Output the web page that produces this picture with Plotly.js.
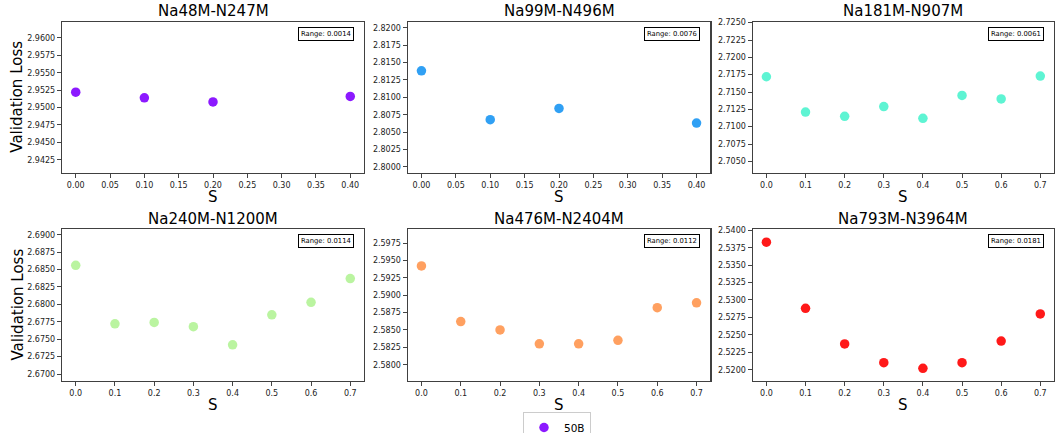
<!DOCTYPE html>
<html>
<head>
<meta charset="utf-8">
<script src="https://cdn.plot.ly/plotly-3.0.1.min.js"></script>
<style>html,body{margin:0;padding:0;background:#fff;}#chart{width:1055px;height:433px;}</style>
</head>
<body>
<div id="chart"></div>
<script>
// ---- data ----
const panelTitles = ["Na48M-N247M", "Na99M-N496M", "Na181M-N907M", "Na240M-N1200M", "Na476M-N2404M", "Na793M-N3964M"];
const sShort = [0.0, 0.1, 0.2, 0.4];
const sLong = [0.0, 0.1, 0.2, 0.3, 0.4, 0.5, 0.6, 0.7];
const lossNa48M = [2.9522, 2.9514, 2.9508, 2.9516];
const lossNa99M = [2.8138, 2.8068, 2.8084, 2.8063];
const lossNa181M = [2.7172, 2.7121, 2.7115, 2.7129, 2.7112, 2.7145, 2.7140, 2.7173];
const lossNa240M = [2.6856, 2.6772, 2.6774, 2.6768, 2.6742, 2.6785, 2.6803, 2.6837];
const lossNa476M = [2.5942, 2.5862, 2.5850, 2.5830, 2.5830, 2.5835, 2.5882, 2.5889];
const lossNa793M = [2.5383, 2.5288, 2.5237, 2.5210, 2.5202, 2.5210, 2.5241, 2.5280];
const rangeLabels = ["Range: 0.0014", "Range: 0.0076", "Range: 0.0061", "Range: 0.0114", "Range: 0.0112", "Range: 0.0181"];
const seriesName = "50B";

// ---- layout helpers ----
const W = 1055, H = 433;
const colsPx = [[62, 364], [407.7, 710.3], [752.7, 1054]];
const rowsPx = [[21.7, 172.7], [229.3, 380.7]];
const colors = ["#8000ff", "#1996f3", "#4df3ce", "#b2f396", "#ff964f", "#ff0000"];
const yLims = [[2.94063, 2.96234], [2.79918, 2.82086], [2.70336, 2.72514],
               [2.66904, 2.69078], [2.5777, 2.59947], [2.51842, 2.54014]];
const xs = [sShort, sShort, sLong, sLong, sLong, sLong];
const ys = [lossNa48M, lossNa99M, lossNa181M, lossNa240M, lossNa476M, lossNa793M];

const traces = [];
const layout = {
  width: W, height: H,
  margin: {l: 0, r: 0, t: 0, b: 0, autoexpand: false},
  paper_bgcolor: "#fff", plot_bgcolor: "#fff",
  font: {family: "DejaVu Sans, sans-serif", color: "#000"},
  showlegend: true,
  legend: {
    x: 523 / W, xanchor: "left", y: 1 - 412 / H, yanchor: "top",
    bordercolor: "#cccccc", borderwidth: 1, bgcolor: "#fff",
    font: {size: 10.5, family: "DejaVu Sans, sans-serif", color: "#000"},
    orientation: "v"
  },
  annotations: [], shapes: []
};

for (let i = 0; i < 6; i++) {
  const n = i + 1;
  const col = i % 3, row = Math.floor(i / 3);
  const xa = "x" + (n === 1 ? "" : n), ya = "y" + (n === 1 ? "" : n);
  const xKey = "xaxis" + (n === 1 ? "" : n), yKey = "yaxis" + (n === 1 ? "" : n);
  const short = xs[i] === sShort;
  traces.push({
    type: "scatter", mode: "markers", x: xs[i], y: ys[i],
    xaxis: xa, yaxis: ya, name: seriesName, showlegend: i === 0,
    marker: {size: 9.5, color: colors[i], opacity: 0.9},
    hoverinfo: "x+y"
  });
  const xr = short ? [-0.02, 0.42] : [-0.035, 0.735];
  const xt = short ? [0, 0.05, 0.1, 0.15, 0.2, 0.25, 0.3, 0.35, 0.4] : sLong;
  layout[xKey] = {
    domain: [colsPx[col][0] / W, colsPx[col][1] / W],
    anchor: ya, range: xr,
    tickmode: "array", tickvals: xt,
    ticktext: xt.map(v => v.toFixed(short ? 2 : 1)),
    ticks: "outside", ticklen: 4, tickwidth: 1, tickcolor: "#444",
    showline: true, linecolor: "#404040", linewidth: 1.2, mirror: true,
    showgrid: false, zeroline: false,
    tickfont: {size: 8, color: "#222"}
  };
  const yt = [];
  for (let v = Math.ceil(yLims[i][0] / 0.0025) * 0.0025; v <= yLims[i][1] + 1e-9; v += 0.0025) yt.push(+v.toFixed(4));
  layout[yKey] = {
    domain: [1 - rowsPx[row][1] / H, 1 - rowsPx[row][0] / H],
    anchor: xa, range: yLims[i],
    tickmode: "array", tickvals: yt, ticktext: yt.map(v => v.toFixed(4)),
    ticks: "outside", ticklen: 4, tickwidth: 1, tickcolor: "#444",
    showline: true, linecolor: "#404040", linewidth: 1.2, mirror: true,
    showgrid: false, zeroline: false,
    tickfont: {size: 8, color: "#222"}
  };
  const cx = (colsPx[col][0] + colsPx[col][1]) / 2 / W;
  // panel title
  layout.annotations.push({
    text: panelTitles[i], xref: "paper", yref: "paper",
    x: cx, y: 1 - (rowsPx[row][0] - 10.5) / H, xanchor: "center", yanchor: "middle",
    showarrow: false, font: {size: 15, color: "#000"}
  });
  // x axis label
  layout.annotations.push({
    text: "S", xref: "paper", yref: "paper",
    x: cx, y: 1 - (rowsPx[row][1] + 24) / H, xanchor: "center", yanchor: "middle",
    showarrow: false, font: {size: 15, color: "#000"}
  });
  // y axis label
  if (col === 0) {
    layout.annotations.push({
      text: "Validation Loss", xref: "paper", yref: "paper", textangle: -90,
      x: 17.5 / W, y: 1 - (rowsPx[row][0] + rowsPx[row][1]) / 2 / H,
      xanchor: "center", yanchor: "middle",
      showarrow: false, font: {size: 15, color: "#000"}
    });
  }
  // range box
  layout.annotations.push({
    text: rangeLabels[i], xref: xa + " domain", yref: ya + " domain",
    x: 1, y: 1, xanchor: "right", yanchor: "top", xshift: -10, yshift: -5,
    showarrow: false, font: {size: 6.8, color: "#000"},
    bordercolor: "#000", borderwidth: 1, borderpad: 2, bgcolor: "#fff"
  });
}

Plotly.newPlot("chart", traces, layout, {displayModeBar: false, staticPlot: true});
</script>
</body>
</html>
